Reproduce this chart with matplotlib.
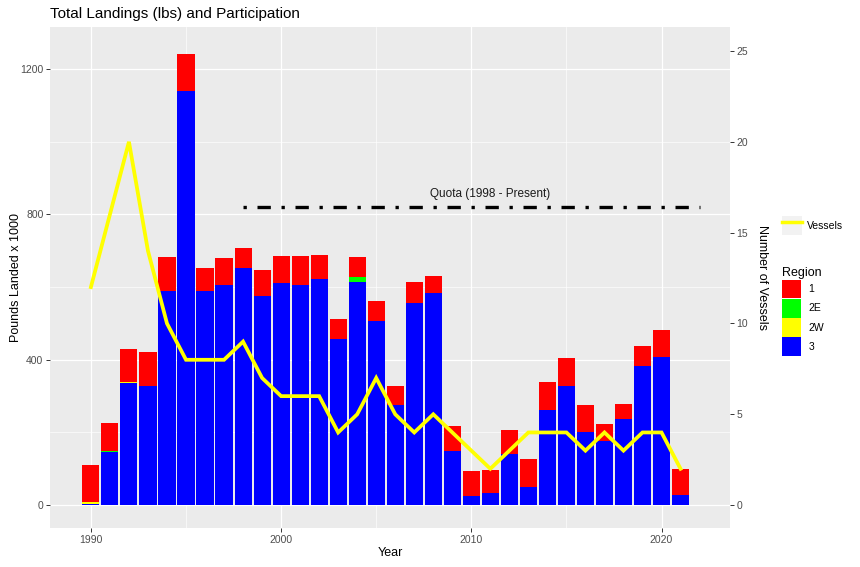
import matplotlib
matplotlib.use("Agg")
from matplotlib import pyplot as plt
from matplotlib.patches import Patch
from matplotlib.lines import Line2D
from matplotlib.legend_handler import HandlerTuple
from matplotlib.ticker import MultipleLocator
import numpy as np

plt.rcParams['font.family'] = ['Liberation Sans', 'DejaVu Sans']

# landings by region, thousands of lbs
years = list(range(1990, 2022))
region_3 = [4, 147, 335, 329, 588, 1140, 588, 605, 654, 575, 610, 607, 622, 456, 615, 507,
            275, 556, 583, 148, 24, 34, 141, 49, 261, 327, 201, 177, 237, 383, 408, 28]
region_2w = [4, 0, 3, 0, 0, 0, 0, 0, 0, 0, 0, 0, 0, 0, 0, 0,
             0, 0, 0, 0, 0, 0, 0, 0, 0, 0, 0, 0, 0, 0, 0, 0]
region_2e = [1, 3, 2, 0, 0, 0, 0, 0, 0, 0, 0, 0, 0, 0, 13, 0,
             0, 0, 0, 0, 0, 0, 0, 0, 0, 0, 0, 0, 0, 0, 0, 0]
region_1 = [101, 77, 90, 92, 95, 102, 64, 75, 54, 73, 75, 78, 66, 57, 54, 56,
            54, 59, 49, 71, 69, 62, 65, 77, 77, 77, 75, 45, 40, 54, 73, 71]
vessels = [12, 16, 20, 14, 10, 8, 8, 8, 9, 7, 6, 6, 6, 4, 5, 7,
           5, 4, 5, 4, 3, 2, 3, 4, 4, 4, 3, 4, 3, 4, 4, 2]
quota_years = [1998, 2022]
quota_level = 820
quota_label = "Quota (1998 - Present)"
region_names = ["1", "2E", "2W", "3"]
region_colours = ["#FF0000", "#00FF00", "#FFFF00", "#0000FF"]
scale = 50  # vessels -> lbs axis

fig = plt.figure(figsize=(8.6, 5.67), dpi=100)
ax = fig.add_axes([50/860, 39/567, 680/860, 501/567])
ax.set_facecolor("#EBEBEB")

# stack bottom-up: 3, 2W, 2E, 1 (ggplot puts first level on top)
bottom = np.zeros(len(years))
for vals, col in [(region_3, "#0000FF"), (region_2w, "#FFFF00"),
                  (region_2e, "#00FF00"), (region_1, "#FF0000")]:
    ax.bar(years, vals, width=0.9, bottom=bottom, color=col, zorder=2)
    bottom += np.array(vals)

ax.plot(years, np.array(vessels) * scale, color="#FFFF00", lw=2.7, zorder=3,
        solid_joinstyle="miter")
ax.plot(quota_years, [quota_level]*2, color="black", lw=2.4, zorder=4,
        dashes=(1, 3.2, 4, 3.2))
ax.text(2011, 857, quota_label, ha="center", va="center", fontsize=8.5,
        color="#1A1A1A", zorder=5)

ax.set_xlim(1987.85, 2023.6)
ax.set_ylim(-63, 1316)
ax.xaxis.set_major_locator(MultipleLocator(10))
ax.xaxis.set_minor_locator(MultipleLocator(5))
ax.yaxis.set_major_locator(MultipleLocator(400))
ax.yaxis.set_minor_locator(MultipleLocator(200))
ax.grid(which="major", color="white", lw=0.9, zorder=0)
ax.grid(which="minor", color="white", lw=0.45, zorder=0)
ax.set_axisbelow(True)
for s in ax.spines.values():
    s.set_visible(False)
ax.tick_params(which="major", length=2.7, width=0.7, color="#333333",
               labelcolor="#4D4D4D", labelsize=7.5, pad=2)
ax.tick_params(which="minor", length=0)
ax.set_xlabel("Year", fontsize=9, labelpad=2, color="black")
ax.set_ylabel("Pounds Landed x 1000", fontsize=9, labelpad=-1, color="black")

sec = ax.secondary_yaxis("right", functions=(lambda v: v/scale, lambda v: v*scale))
sec.set_yticks([0, 5, 10, 15, 20, 25])
sec.spines["right"].set_visible(False)
sec.tick_params(length=2.7, width=0.7, color="#333333", labelcolor="#4D4D4D",
                labelsize=7.5, pad=2)
sec.set_ylabel("Number of Vessels", rotation=270, fontsize=9, labelpad=14,
               color="black")

fig.text(50/860, 1 - 14/567, "Total Landings (lbs) and Participation",
         fontsize=11, va="center", ha="left", color="black")

# legends
key = Patch(facecolor="#F2F2F2", edgecolor="none")
vline = Line2D([], [], color="#FFFF00", lw=2.5)
fig.legend([(key, vline)], ["Vessels"], handler_map={tuple: HandlerTuple(ndivide=1)},
           loc="upper left", bbox_to_anchor=(782/860, 1 - 216/567), frameon=False,
           borderpad=0, borderaxespad=0, fontsize=7.5, handlelength=1.9,
           handleheight=2.5, handletextpad=0.5)

handles = [Patch(facecolor=c, edgecolor="none") for c in region_colours]
leg = fig.legend(handles, region_names, title="Region", loc="upper left",
                 bbox_to_anchor=(782/860, 1 - 267/567), frameon=False,
                 borderpad=0, borderaxespad=0, fontsize=7.5, title_fontsize=9,
                 handlelength=1.8, handleheight=2.4, labelspacing=0.05,
                 handletextpad=0.75, alignment="left")

fig.savefig("out.png", dpi=100)
